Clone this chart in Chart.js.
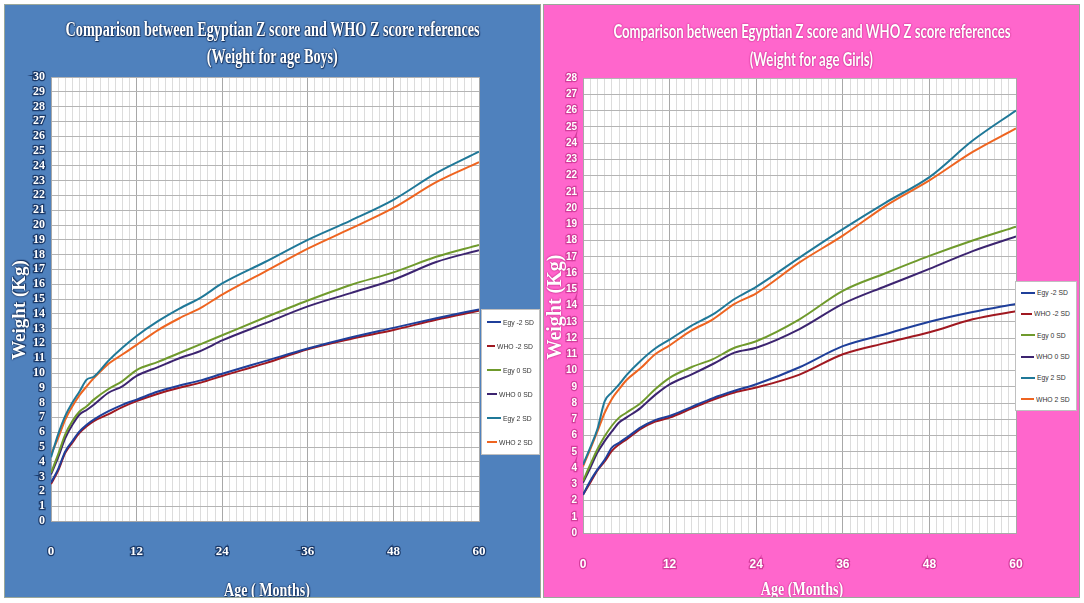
<!DOCTYPE html>
<html lang="en">
<head>
    <meta charset="UTF-8">
    <title>Egyptian vs WHO Z score - Weight for age</title>
    <script src="https://cdn.jsdelivr.net/npm/chart.js@4.4.1/dist/chart.umd.min.js"></script>
    <style>
        body {
            margin: 0;
            width: 1084px;
            height: 603px;
            background: #ffffff;
            position: relative;
            overflow: hidden;
        }
        .panel {
            position: absolute;
            top: 4px;
            width: 537px;
            height: 594px;
            box-sizing: border-box;
            border: 1px solid #9aa79a;
        }
        .panel canvas { position: absolute; left: 0; top: 0; }
        #boys { left: 4px; background: #4f81bd; }
        #girls { left: 543px; background: #ff66cc; overflow: hidden; }
        #boys { overflow: hidden; }
        .title {
            position: absolute;
            left: -150px;
            width: 835px;
            height: 24px;
            line-height: 24px;
            text-align: center;
            color: #fff;
            font-weight: bold;
            white-space: nowrap;
        }
        .title span { display: inline-block; }
        #boys .title, #boys .axis-title {
            font-family: 'Liberation Serif', serif;
            text-shadow: 0 0 2px #17325c, 0 0 2px #17325c, 1px 1px 1px #17325c;
        }
        #girls .title {
            font-family: Lato, sans-serif;
            text-shadow: 0 0 2px #c8308f, 0 0 2px #c8308f;
        }
        #girls .axis-title {
            font-family: 'Liberation Serif', serif;
            text-shadow: 0 0 2px #c8308f, 0 0 2px #c8308f;
        }
        .axis-title {
            position: absolute;
            color: #fff;
            font-weight: bold;
            white-space: nowrap;
            line-height: 24px;
            height: 24px;
            text-align: center;
        }
        .legend {
            position: absolute;
            background: #fff;
            border: 1px solid #c0c0c0;
            box-sizing: border-box;
            display: flex;
            flex-direction: column;
        }
        .legend .row {
            flex: 1;
            display: flex;
            align-items: center;
            padding-left: 5px;
        }
        .legend .swatch { width: 14px; height: 2px; margin-right: 2px; }
        .legend .label {
            font-family: 'Liberation Sans', sans-serif;
            font-size: 8px;
            color: #333;
            white-space: nowrap;
            display: inline-block;
            transform: scaleX(0.85);
            transform-origin: left center;
        }
    </style>
</head>
<body>
    <div id="boys" class="panel">
        <canvas id="boysChart"></canvas>
        <div class="title" style="top:12px;font-size:20px"><span style="transform:scaleX(0.71)">Comparison between Egyptian Z score and WHO Z score references</span></div>
        <div class="title" style="top:39px;font-size:20px"><span style="transform:scaleX(0.71)">(Weight for age Boys)</span></div>
        <div class="axis-title" style="left:-46px;top:293px;width:120px;font-size:19px;transform:rotate(-90deg)">Weight (Kg)</div>
        <div class="axis-title" style="left:202px;top:573px;width:120px;font-size:19px;transform:scaleX(0.74)">Age ( Months)</div>
    </div>
    <div id="girls" class="panel">
        <canvas id="girlsChart"></canvas>
        <div class="title" style="top:14px;font-size:18px"><span style="transform:scaleX(0.73)">Comparison between Egyptian Z score and WHO Z score references</span></div>
        <div class="title" style="top:42px;font-size:18px"><span style="transform:scaleX(0.73)">(Weight for age Girls)</span></div>
        <div class="axis-title" style="left:-50px;top:290px;width:120px;font-size:20px;transform:rotate(-90deg)">Weight (Kg)</div>
        <div class="axis-title" style="left:198px;top:572px;width:120px;font-size:19px;transform:scaleX(0.74)">Age (Months)</div>
    </div>
    <div id="boysLegend" class="legend" style="left:481px;top:309px;width:59px;height:146px"></div>
    <div id="girlsLegend" class="legend" style="left:1015px;top:281px;width:62px;height:130px"></div>

    <script>
        // age in months
        const months = [0, 1, 2, 3, 4, 5, 6, 8, 10, 12, 15, 18, 21, 24, 30, 36, 42, 48, 54, 60];
        const seriesNames = ['Egy -2 SD', 'WHO -2 SD', 'Egy 0 SD', 'WHO 0 SD', 'Egy 2 SD', 'WHO 2 SD'];
        const seriesColors = ['#1f3f9a', '#a01820', '#6f9a2c', '#3c2470', '#1f7898', '#ee6420'];
        const xTickLabels = [0, 12, 24, 36, 48, 60];

        // boys weight (kg)
        const boysEgyM2 = [2.6, 3.5, 4.7, 5.4, 6.05, 6.5, 6.85, 7.4, 7.85, 8.2, 8.75, 9.15, 9.5, 9.95, 10.8, 11.65, 12.4, 13.05, 13.7, 14.3];
        const boysWhoM2 = [2.5, 3.4, 4.6, 5.3, 5.95, 6.4, 6.75, 7.2, 7.7, 8.1, 8.6, 9.0, 9.35, 9.8, 10.65, 11.6, 12.3, 12.9, 13.6, 14.2];
        const boysEgy0 = [3.25, 4.5, 5.85, 6.75, 7.4, 7.75, 8.2, 8.9, 9.45, 10.2, 10.75, 11.35, 11.95, 12.55, 13.75, 14.9, 15.95, 16.8, 17.85, 18.65];
        const boysWho0 = [3.15, 4.3, 5.6, 6.5, 7.2, 7.5, 7.85, 8.65, 9.1, 9.8, 10.4, 11.0, 11.5, 12.2, 13.35, 14.5, 15.4, 16.3, 17.5, 18.3];
        const boysEgy2 = [4.3, 5.85, 7.1, 8.0, 8.75, 9.55, 9.75, 10.8, 11.7, 12.5, 13.5, 14.35, 15.1, 16.05, 17.5, 19.0, 20.3, 21.7, 23.5, 24.95];
        const boysWho2 = [4.5, 5.6, 6.85, 7.75, 8.5, 9.1, 9.65, 10.6, 11.25, 11.9, 12.9, 13.7, 14.4, 15.3, 16.85, 18.4, 19.75, 21.15, 22.9, 24.25];

        // girls weight (kg)
        const girlsEgyM2 = [2.35, 3.2, 3.9, 4.5, 5.25, 5.55, 5.85, 6.5, 6.95, 7.2, 7.75, 8.3, 8.75, 9.15, 10.2, 11.5, 12.25, 13.0, 13.6, 14.1];
        const girlsWhoM2 = [2.35, 3.1, 3.85, 4.4, 5.05, 5.45, 5.75, 6.4, 6.85, 7.1, 7.65, 8.2, 8.65, 8.95, 9.75, 11.0, 11.7, 12.35, 13.15, 13.65];
        const girlsEgy0 = [3.2, 4.2, 5.15, 5.95, 6.6, 7.1, 7.4, 8.0, 8.85, 9.55, 10.2, 10.7, 11.4, 11.8, 13.15, 14.9, 16.0, 17.05, 18.0, 18.85];
        const girlsWho0 = [3.1, 4.0, 4.95, 5.65, 6.25, 6.8, 7.1, 7.7, 8.5, 9.15, 9.75, 10.4, 11.1, 11.4, 12.55, 14.1, 15.2, 16.25, 17.35, 18.25];
        const girlsEgy2 = [4.2, 5.25, 6.4, 8.1, 8.65, 9.15, 9.7, 10.6, 11.35, 11.9, 12.75, 13.45, 14.4, 15.15, 16.95, 18.7, 20.35, 21.9, 24.15, 26.0];
        const girlsWho2 = [4.1, 5.15, 6.25, 7.4, 8.25, 8.85, 9.4, 10.15, 11.0, 11.55, 12.45, 13.15, 14.1, 14.75, 16.65, 18.3, 20.15, 21.7, 23.45, 24.9];

        const plotBg = {
            id: 'plotBg',
            beforeDraw(chart) {
                const { ctx, chartArea: a } = chart;
                ctx.save();
                ctx.fillStyle = '#ffffff';
                ctx.fillRect(a.left, a.top, a.width, a.height);
                ctx.restore();
            }
        };

        function buildDatasets(series) {
            return series.map((values, i) => ({
                label: seriesNames[i],
                data: months.map((m, j) => ({ x: m, y: values[j] })),
                borderColor: seriesColors[i],
                backgroundColor: seriesColors[i],
                borderWidth: 2,
                pointRadius: 0,
                cubicInterpolationMode: 'monotone',
                fill: false
            }));
        }

        function buildLegend(id) {
            const box = document.getElementById(id);
            seriesNames.forEach((name, i) => {
                const row = document.createElement('div');
                row.className = 'row';
                row.innerHTML = `<div class="swatch" style="background:${seriesColors[i]}"></div><span class="label">${name}</span>`;
                box.appendChild(row);
            });
        }

        function createChart(canvasId, series, opt) {
            const ctx = document.getElementById(canvasId).getContext('2d');
            return new Chart(ctx, {
                type: 'line',
                data: { datasets: buildDatasets(series) },
                plugins: [plotBg],
                options: {
                    responsive: false,
                    animation: false,
                    layout: { padding: { top: opt.padTop, right: opt.padRight, left: 0, bottom: 0 } },
                    plugins: {
                        legend: { display: false },
                        tooltip: { enabled: false }
                    },
                    scales: {
                        x: {
                            type: 'linear',
                            min: 0,
                            max: 60,
                            afterFit: scale => { scale.height = opt.xHeight; },
                            border: { color: '#a8a8a8' },
                            grid: {
                                drawTicks: false,
                                color: c => (c.tick && c.tick.value % 12 === 0) ? '#a8a8a8' : '#dcdcdc'
                            },
                            ticks: {
                                stepSize: 1,
                                autoSkip: false,
                                maxTicksLimit: 100,
                                maxRotation: 0,
                                padding: opt.xPad,
                                color: '#ffffff',
                                textStrokeColor: opt.stroke,
                                textStrokeWidth: 2.5,
                                font: opt.xFont,
                                callback: v => xTickLabels.includes(v) ? String(v) : ''
                            }
                        },
                        y: {
                            min: 0,
                            max: opt.yMax,
                            afterFit: scale => { scale.width = opt.yWidth; },
                            border: { color: '#a8a8a8' },
                            grid: { drawTicks: false, color: '#b4b4b4' },
                            ticks: {
                                stepSize: 1,
                                autoSkip: false,
                                maxTicksLimit: 100,
                                padding: opt.yPad,
                                color: '#ffffff',
                                textStrokeColor: opt.stroke,
                                textStrokeWidth: 2.5,
                                font: opt.yFont
                            }
                        }
                    }
                }
            });
        }

        function sizeCanvas(id) {
            const c = document.getElementById(id);
            c.width = 535;
            c.height = 592;
            c.style.width = '535px';
            c.style.height = '592px';
        }

        sizeCanvas('boysChart');
        sizeCanvas('girlsChart');

        createChart('boysChart', [boysEgyM2, boysWhoM2, boysEgy0, boysWho0, boysEgy2, boysWho2], {
            yMax: 30,
            padTop: 72,
            padRight: 61,
            yWidth: 46,
            xHeight: 76,
            xPad: 23,
            yPad: 6,
            stroke: '#1b3a6a',
            xFont: { family: 'Liberation Serif', size: 13, weight: 'bold' },
            yFont: { family: 'Liberation Serif', size: 12, weight: 'bold' }
        });

        createChart('girlsChart', [girlsEgyM2, girlsWhoM2, girlsEgy0, girlsWho0, girlsEgy2, girlsWho2], {
            yMax: 28,
            padTop: 73,
            padRight: 63,
            yWidth: 39,
            xHeight: 64,
            xPad: 24,
            yPad: 6,
            stroke: '#d43c9c',
            xFont: { family: 'Liberation Sans', size: 12, weight: 'bold' },
            yFont: { family: 'Liberation Sans', size: 10, weight: 'bold' }
        });

        buildLegend('boysLegend');
        buildLegend('girlsLegend');
    </script>
</body>
</html>
